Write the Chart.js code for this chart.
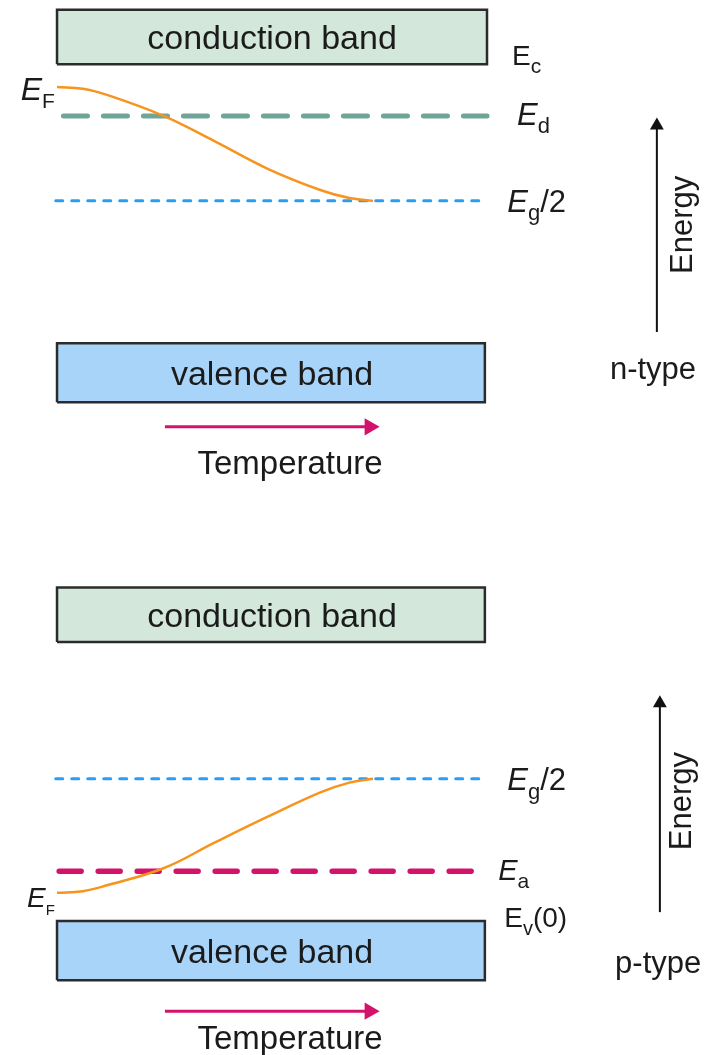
<!DOCTYPE html>
<html>
<head>
<meta charset="utf-8">
<script src="https://cdn.jsdelivr.net/npm/chart.js@4.4.1/dist/chart.umd.min.js"></script>
<style>
  html, body { margin: 0; padding: 0; background: #fff; }
  canvas { display: block; }
</style>
</head>
<body>
<canvas id="nType" width="707" height="527"></canvas>
<canvas id="pType" width="707" height="528"></canvas>
<script>
// x: temperature, 0 = left end of the bands, 1 = right end
// y: energy, 0 = top of valence band, 1 = bottom of conduction band
const temperature = [0, 0.06, 0.116, 0.249, 0.365, 0.49, 0.614, 0.68, 0.735];
const fermiN = [0.918, 0.912, 0.89, 0.814, 0.725, 0.625, 0.548, 0.52, 0.51];
const fermiP = [0.101, 0.107, 0.128, 0.19, 0.28, 0.374, 0.462, 0.496, 0.51];

const valenceTop = 0;
const conductionBottom = 1;
const midGap = 0.51;
const donorLevel = 0.814;
const acceptorLevel = 0.178;

const FONT = '"Liberation Sans", Arial, Helvetica, sans-serif';
const TEXT = "#1b1b1b";
const ORANGE = "#f7941d";
const TEAL = "#6fa597";
const BLUE = "#2a9df4";
const MAGENTA = "#d3136b";

const xy = (xs, ys) => xs.map((x, i) => ({ x, y: ys[i] }));

// band box: a filled strip plus its outline
function band(x0, x1, lo, hi, color) {
  return [
    {
      data: [{ x: x0, y: hi }, { x: x1, y: hi }],
      fill: { value: lo },
      backgroundColor: color,
      borderWidth: 0,
      order: 5,
    },
    {
      data: [
        { x: x0, y: lo }, { x: x1, y: lo }, { x: x1, y: hi },
        { x: x0, y: hi }, { x: x0, y: lo },
      ],
      borderColor: "#2b2b2b",
      borderWidth: 2.5,
      borderJoinStyle: "miter",
      order: 4,
    },
  ];
}

function level(x0, x1, y, color, width, dash, cap) {
  return {
    data: [{ x: x0, y }, { x: x1, y }],
    borderColor: color,
    borderWidth: width,
    borderDash: dash,
    borderCapStyle: cap,
    order: 3,
  };
}

function arrow(p0, p1, color, width, head, rot) {
  return {
    data: [p0, p1],
    borderColor: color,
    borderWidth: width,
    pointStyle: "triangle",
    pointRadius: [0, head],
    pointRotation: [0, rot],
    pointBackgroundColor: color,
    pointBorderWidth: 0,
    order: 1,
  };
}

function fermiCurve(ys) {
  return {
    data: xy(temperature, ys),
    borderColor: ORANGE,
    borderWidth: 2.5,
    tension: 0.4,
    order: 2,
  };
}

// text drawn from data coordinates
function drawNote(chart, n) {
  const ctx = chart.ctx;
  const px = chart.scales.x.getPixelForValue(n.x);
  const py = chart.scales.y.getPixelForValue(n.y);
  const main = n.parts[0].size;
  ctx.save();
  ctx.fillStyle = TEXT;
  ctx.textBaseline = "alphabetic";
  ctx.textAlign = "left";
  const font = (p) => `${p.italic ? "italic " : ""}${p.size}px ${FONT}`;
  const widths = n.parts.map((p) => {
    ctx.font = font(p);
    const w = ctx.measureText(p.t).width;
    return n.maxWidth ? Math.min(w, n.maxWidth) : w;
  });
  const total = widths.reduce((a, b) => a + b, 0);
  ctx.translate(px, py);
  if (n.rotate) ctx.rotate(-Math.PI / 2);
  let cx = n.align === "center" ? -total / 2 : n.align === "right" ? -total : 0;
  const base = 0.36 * main;
  n.parts.forEach((p, i) => {
    ctx.font = font(p);
    const dy = p.sub ? base + 0.27 * main : base;
    if (n.maxWidth) ctx.fillText(p.t, cx, dy, n.maxWidth);
    else ctx.fillText(p.t, cx, dy);
    cx += widths[i];
  });
  ctx.restore();
}

function notesPlugin(notes) {
  return {
    id: "notes",
    afterDatasetsDraw(chart) {
      notes.forEach((n) => drawNote(chart, n));
    },
  };
}

function panel(id, yMin, yMax, datasets, notes) {
  return new Chart(document.getElementById(id), {
    type: "scatter",
    data: {
      datasets: datasets.map((d) => ({
        showLine: true,
        pointRadius: 0,
        pointHoverRadius: 0,
        fill: false,
        tension: 0,
        clip: false,
        ...d,
      })),
    },
    options: {
      responsive: false,
      animation: false,
      devicePixelRatio: 1,
      events: [],
      layout: { padding: 0, autoPadding: false },
      plugins: { legend: { display: false }, tooltip: { enabled: false } },
      scales: {
        x: { type: "linear", min: -0.1326, max: 1.5116, display: false },
        y: { type: "linear", min: yMin, max: yMax, display: false },
      },
    },
    plugins: [notesPlugin(notes)],
  });
}

const bandText = (y, t) => ({
  x: 0.5, y, align: "center", maxWidth: 253,
  parts: [{ t, size: 34 }],
});

// n-type
panel(
  "nType", -0.659, 1.23,
  [
    ...band(0, 1, conductionBottom, conductionBottom + 0.195, "#d3e7da"),
    ...band(0, 0.995, valenceTop - 0.212, valenceTop, "#a9d4fa"),
    level(0.015, 1.0, donorLevel, TEAL, 5, [24, 16], "round"),
    level(-0.003, 0.988, midGap, BLUE, 3, [7, 9], "round"),
    fermiCurve(fermiN),
    arrow({ x: 0.251, y: -0.3 }, { x: 0.727, y: -0.3 }, MAGENTA, 3, 10, 90),
    arrow({ x: 1.395, y: 0.04 }, { x: 1.395, y: 0.78 }, "#111", 2, 8, 0),
  ],
  [
    bandText(1.0975, "conduction band"),
    bandText(-0.106, "valence band"),
    { x: 1.058, y: 1.033, parts: [{ t: "E", size: 28 }, { t: "c", size: 21, sub: true }] },
    { x: 1.07, y: 0.823, parts: [{ t: "E", size: 31, italic: true }, { t: "d", size: 22, sub: true }] },
    { x: 1.047, y: 0.51, parts: [{ t: "E", size: 31, italic: true }, { t: "g", size: 22, sub: true }, { t: "/2", size: 31 }] },
    { x: -0.005, y: 0.914, align: "right", parts: [{ t: "E", size: 32, italic: true }, { t: "F", size: 21, sub: true }] },
    { x: 1.451, y: 0.424, align: "center", rotate: true, parts: [{ t: "Energy", size: 31 }] },
    { x: 1.386, y: -0.089, align: "center", parts: [{ t: "n-type", size: 31 }] },
    { x: 0.542, y: -0.426, align: "center", parts: [{ t: "Temperature", size: 33 }] },
  ]
);

// p-type
panel(
  "pType", -0.48, 1.412,
  [
    ...band(0, 0.995, conductionBottom, conductionBottom + 0.195, "#d3e7da"),
    ...band(0, 0.995, valenceTop - 0.212, valenceTop, "#a9d4fa"),
    level(-0.003, 0.988, midGap, BLUE, 3, [7, 9], "round"),
    level(0.005, 0.995, acceptorLevel, MAGENTA, 5.5, [22, 17], "round"),
    fermiCurve(fermiP),
    arrow({ x: 0.251, y: -0.323 }, { x: 0.727, y: -0.323 }, MAGENTA, 3, 10, 90),
    arrow({ x: 1.402, y: 0.032 }, { x: 1.402, y: 0.78 }, "#111", 2, 8, 0),
  ],
  [
    bandText(1.0975, "conduction band"),
    bandText(-0.106, "valence band"),
    { x: 1.047, y: 0.509, parts: [{ t: "E", size: 31, italic: true }, { t: "g", size: 22, sub: true }, { t: "/2", size: 31 }] },
    { x: 1.026, y: 0.183, parts: [{ t: "E", size: 29, italic: true }, { t: "a", size: 21, sub: true }] },
    { x: 1.04, y: 0.014, parts: [{ t: "E", size: 28 }, { t: "v", size: 20, sub: true }, { t: "(0)", size: 28 }] },
    { x: -0.005, y: 0.086, align: "right", parts: [{ t: "E", size: 28, italic: true }, { t: "F", size: 15, sub: true }] },
    { x: 1.449, y: 0.43, align: "center", rotate: true, parts: [{ t: "Energy", size: 31 }] },
    { x: 1.398, y: -0.147, align: "center", parts: [{ t: "p-type", size: 31 }] },
    { x: 0.542, y: -0.415, align: "center", parts: [{ t: "Temperature", size: 33 }] },
  ]
);
</script>
</body>
</html>
